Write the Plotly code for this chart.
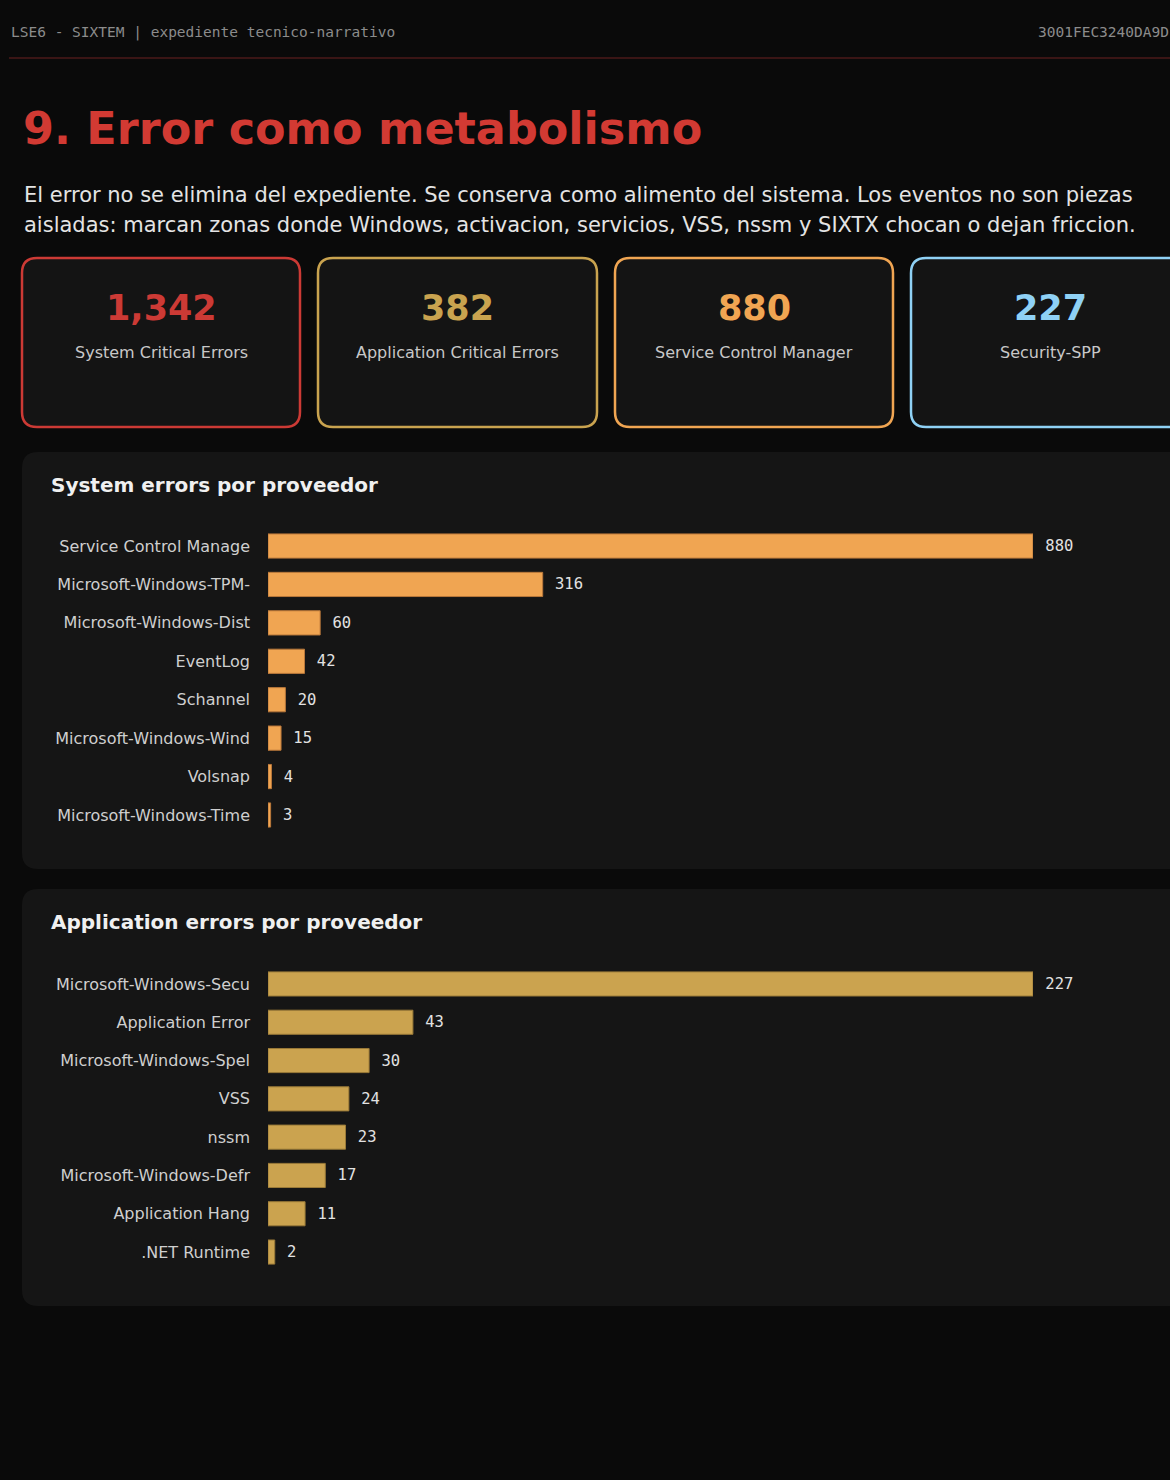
import plotly.graph_objects as go

W, H = 1170, 1480
OFF = 0  # body margin removed by post_script

# ---- data ----
sys_providers = ["Service Control Manage", "Microsoft-Windows-TPM-", "Microsoft-Windows-Dist",
                 "EventLog", "Schannel", "Microsoft-Windows-Wind", "Volsnap", "Microsoft-Windows-Time"]
sys_counts = [880, 316, 60, 42, 20, 15, 4, 3]

app_providers = ["Microsoft-Windows-Secu", "Application Error", "Microsoft-Windows-Spel",
                 "VSS", "nssm", "Microsoft-Windows-Defr", "Application Hang", ".NET Runtime"]
app_counts = [227, 43, 30, 24, 23, 17, 11, 2]

kpi_values = ["1,342", "382", "880", "227"]
kpi_labels = ["System Critical Errors", "Application Critical Errors", "Service Control Manager", "Security-SPP"]
kpi_colors = ["#cc3a35", "#c9a34f", "#f0a552", "#8fd1f5"]

header_left = "LSE6 - SIXTEM | expediente tecnico-narrativo"
header_right = "3001FEC3240DA9D"
title = "9. Error como metabolismo"
para = ["El error no se elimina del expediente. Se conserva como alimento del sistema. Los eventos no son piezas",
        "aisladas: marcan zonas donde Windows, activacion, servicios, VSS, nssm y SIXTX chocan o dejan friccion."]

SANS = "DejaVu Sans, Verdana, sans-serif"
MONO = "DejaVu Sans Mono, monospace"
PAGE_BG = "#0a0a0a"


def px(x):
    return (x - OFF) / W


def py(y):
    return 1 - (y - OFF) / H


def rrect_px(x0, y0, x1, y1, r):
    return (f"M{px(x0 + r)},{py(y0)} L{px(x1 - r)},{py(y0)} Q{px(x1)},{py(y0)} {px(x1)},{py(y0 + r)} "
            f"L{px(x1)},{py(y1 - r)} Q{px(x1)},{py(y1)} {px(x1 - r)},{py(y1)} L{px(x0 + r)},{py(y1)} "
            f"Q{px(x0)},{py(y1)} {px(x0)},{py(y1 - r)} L{px(x0)},{py(y0 + r)} Q{px(x0)},{py(y0)} {px(x0 + r)},{py(y0)} Z")


fig = go.Figure()

fig.add_trace(go.Bar(
    x=sys_counts, y=sys_providers, orientation="h", xaxis="x", yaxis="y",
    marker=dict(color="#f0a552", line=dict(color="#b8773a", width=1)),
    width=0.63, text=sys_counts, texttemplate=" %{text}", textposition="outside",
    cliponaxis=False, textfont=dict(family=MONO, size=15.5, color="#e2e2e2"),
    hoverinfo="x+y", showlegend=False,
))
fig.add_trace(go.Bar(
    x=app_counts, y=app_providers, orientation="h", xaxis="x2", yaxis="y2",
    marker=dict(color="#cba34f", line=dict(color="#9a7a38", width=1)),
    width=0.63, text=app_counts, texttemplate=" %{text}", textposition="outside",
    cliponaxis=False, textfont=dict(family=MONO, size=15.5, color="#e2e2e2"),
    hoverinfo="x+y", showlegend=False,
))

xdom = [px(268), px(1033)]
axis_common = dict(showgrid=False, zeroline=False, showline=False, showticklabels=False, fixedrange=True)
yaxis_common = dict(showgrid=False, zeroline=False, showline=False, autorange="reversed",
                    tickfont=dict(family=SANS, size=16, color="#cfcfcf"), ticklabelstandoff=17,
                    ticks="", fixedrange=True)

shapes = []
annotations = []

# header rule
shapes.append(dict(type="line", xref="paper", yref="paper", x0=px(9), x1=1.02, y0=py(58), y1=py(58),
                   line=dict(color="#3a1515", width=2), layer="below"))

# KPI cards
card_x = [(22, 300), (318, 597), (615, 893), (911, 1190)]
for (x0, x1), c, v, lab in zip(card_x, kpi_colors, kpi_values, kpi_labels):
    shapes.append(dict(type="path", xref="paper", yref="paper", path=rrect_px(x0, 258, x1, 427, 15),
                       fillcolor="#141414", line=dict(color=c, width=2.5), layer="below"))
    cx = (x0 + x1) / 2
    annotations.append(dict(text=f"<b>{v}</b>", x=px(cx), y=py(308),
                            xanchor="center", yanchor="middle",
                            font=dict(family=SANS, size=35, color=c)))
    annotations.append(dict(text=lab, x=px(cx), y=py(353),
                            xanchor="center", yanchor="middle",
                            font=dict(family=SANS, size=16, color="#c8c8c8")))

# chart panels
for y0, y1 in [(452, 869), (889, 1306)]:
    shapes.append(dict(type="path", xref="paper", yref="paper", path=rrect_px(22, y0, 1210, y1, 16),
                       fillcolor="#151515", line=dict(width=0), layer="below"))

annotations += [
    dict(text=header_left, x=px(9), y=py(32), xanchor="left", yanchor="middle",
         font=dict(family=MONO, size=14.5, color="#8c8c8c")),
    dict(text=header_right, x=px(1036), y=py(32), xanchor="left", yanchor="middle",
         font=dict(family=MONO, size=14.5, color="#8c8c8c")),
    dict(text=f"<b>{title}</b>", x=px(21), y=py(128), xanchor="left", yanchor="middle",
         font=dict(family=SANS, size=44.5, color="#d23a33")),
    dict(text=para[0], x=px(22), y=py(195), xanchor="left", yanchor="middle",
         font=dict(family=SANS, size=21, color="#e4e4e4")),
    dict(text=para[1], x=px(22), y=py(225), xanchor="left", yanchor="middle",
         font=dict(family=SANS, size=21, color="#e4e4e4")),
    dict(text="<b>System errors por proveedor</b>", x=px(49), y=py(485), xanchor="left", yanchor="middle",
         font=dict(family=SANS, size=20, color="#f0f0f0")),
    dict(text="<b>Application errors por proveedor</b>", x=px(49), y=py(922), xanchor="left", yanchor="middle",
         font=dict(family=SANS, size=20, color="#f0f0f0")),
]
for a in annotations:
    a.setdefault("xref", "paper")
    a.setdefault("yref", "paper")
    a.setdefault("showarrow", False)

fig.update_layout(
    width=W, height=H, margin=dict(l=0, r=0, t=0, b=0),
    paper_bgcolor=PAGE_BG, plot_bgcolor="rgba(0,0,0,0)",
    xaxis=dict(domain=xdom, range=[0, max(sys_counts)], anchor="y", **axis_common),
    yaxis=dict(domain=[py(834.2), py(526.8)], anchor="x", **yaxis_common),
    xaxis2=dict(domain=xdom, range=[0, max(app_counts)], anchor="y2", **axis_common),
    yaxis2=dict(domain=[py(1271.2), py(964.8)], anchor="x2", **yaxis_common),
    shapes=shapes, annotations=annotations, bargap=0.37,
    font=dict(family=SANS, color="#cfcfcf"),
)

fig.write_html(
    "out.html",
    config={"displayModeBar": False},
    post_script=("document.body.style.margin='0';document.body.style.overflow='hidden';"
                 f"document.body.style.background='{PAGE_BG}';"
                 f"document.documentElement.style.background='{PAGE_BG}';"),
)
